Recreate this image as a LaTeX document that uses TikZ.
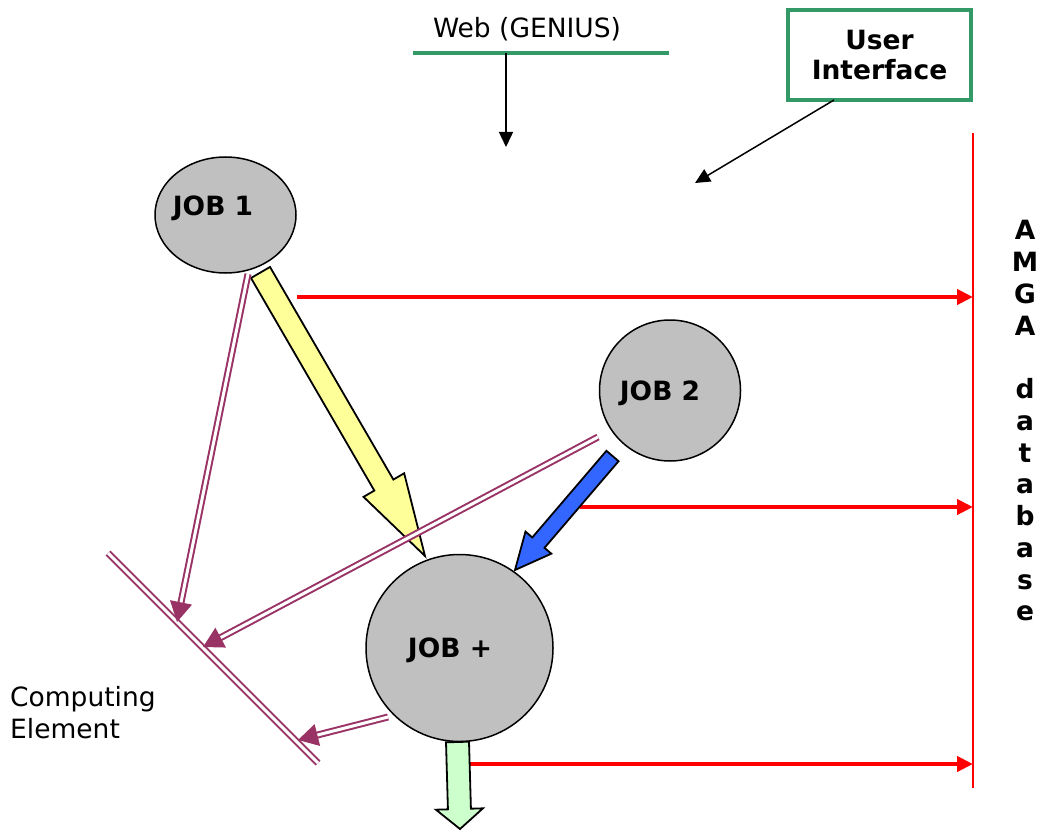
\documentclass[tikz,border=0pt]{standalone}
\usepackage{fontspec}
\setmainfont{DejaVu Sans}
\usetikzlibrary{arrows.meta,calc,shapes.geometric}

\definecolor{uigreen}{RGB}{51,153,102}
\definecolor{cepurple}{RGB}{153,51,102}
\definecolor{jobgray}{RGB}{192,192,192}
\definecolor{arrowyellow}{RGB}{255,255,153}
\definecolor{arrowblue}{RGB}{51,102,255}
\definecolor{arrowgreen}{RGB}{204,255,204}

% block arrow: from, to, shaft half width, head half width, head length, fill
\newcommand\blockarrow[6]{%
  \path ($(#2)!#5!(#1)$) coordinate (ba-h);
  \draw[blockedge, fill=#6]
    ($(#1)!#3!90:(#2)$) -- ($(ba-h)!#3!-90:(#1)$) -- ($(ba-h)!#4!-90:(#1)$) -- (#2)
    -- ($(ba-h)!#4!90:(#1)$) -- ($(ba-h)!#3!90:(#1)$) -- ($(#1)!#3!-90:(#2)$) -- cycle;}

\begin{document}
\begin{tikzpicture}[x=1pt,y=-1pt,
  job/.style={circle, draw=black, line width=1.5pt, fill=jobgray, inner sep=0pt},
  lbl/.style={font=\fontsize{26.5}{32}\selectfont},
  blbl/.style={font=\fontsize{26.5}{30}\selectfont\bfseries},
  ptr/.style={draw=black, line width=1.5pt, -{Triangle[length=15pt,width=14pt]}},
  feed/.style={draw=red, line width=4pt, -{Triangle[length=16pt,width=15pt]}},
  dbl/.style={draw=cepurple, double=white, double distance=3pt, line width=2pt},
  dblarrow/.style={dbl, -{Triangle[length=20pt,width=22pt]}},
  blockedge/.style={draw=black, line width=1.8pt, line join=miter}]
\useasboundingbox (0,0) rectangle (1040,829);

% web portal
\coordinate (webL) at (413,53);
\coordinate (webR) at (669,53);
\draw[uigreen, line width=4pt] (webL) -- (webR);
\node[lbl] (web) at (527,29) {Web (GENIUS)};
\coordinate (webin) at (506,53);
\coordinate (webout) at (506,147);
\draw[ptr] (webin) -- (webout);

% user interface
\node[draw=uigreen, line width=4pt, minimum width=183pt, minimum height=90pt,
      blbl, align=center] (ui) at (879.5,55) {User\\Interface};
\coordinate (uiout) at (834,100);
\coordinate (uiin) at (695,183);
\draw[ptr] (uiout) -- (uiin);

% AMGA database
\coordinate (dbT) at (973,133);
\coordinate (dbB) at (973,788);
\draw[red, line width=1.5pt] (dbT) -- (dbB);
\node[font=\fontsize{26.5}{31.75}\selectfont\bfseries, align=center] (amga) at (1025,421)
  {A\\M\\G\\A\\\mbox{}\\d\\a\\t\\a\\b\\a\\s\\e};

% jobs
\node[job, ellipse, minimum width=141pt, minimum height=116pt] (j1) at (225.5,215) {};
\node[job, minimum size=141pt] (j2) at (670,390.5) {};
\node[job, minimum size=187pt] (jp) at (459.5,648) {};
\node[blbl] (j1t) at (213,208) {JOB 1};
\node[blbl] (j2t) at (660,393) {JOB 2};
\node[blbl] (jpt) at (450,650) {JOB +};

% metadata written to the database
\coordinate (r1a) at (297,297);
\coordinate (r1b) at (973,297);
\coordinate (r2a) at (580,507);
\coordinate (r2b) at (973,507);
\coordinate (r3a) at (470,764);
\coordinate (r3b) at (973,764);
\draw[feed] (r1a) -- (r1b);
\draw[feed] (r2a) -- (r2b);
\draw[feed] (r3a) -- (r3b);

% job flow
\coordinate (ya) at (260.5,272.5);
\coordinate (yb) at (425,556);
\blockarrow{ya}{yb}{11pt}{23.5pt}{82pt}{arrowyellow}
\coordinate (bla) at (612.5,456);
\coordinate (blb) at (515,570);
\blockarrow{bla}{blb}{8pt}{17pt}{36pt}{arrowblue}
\coordinate (ga) at (457.5,742);
\coordinate (gb) at (460,829);
\blockarrow{ga}{gb}{11.5pt}{23.5pt}{20pt}{arrowgreen}

% computing element
\coordinate (ceA) at (108,553);
\coordinate (ceB) at (318,763);
\draw[dbl] (ceA) -- (ceB);
\node[lbl, align=left, anchor=west, inner sep=0pt] (cet) at (10,713) {Computing\\Element};

\coordinate (d1a) at (248,274);
\coordinate (d1b) at (177,622);
\coordinate (d2a) at (598,437);
\coordinate (d2b) at (203,647);
\coordinate (d3a) at (388,717);
\coordinate (d3b) at (298,740);
\draw[dblarrow] (d1a) -- (d1b);
\draw[dblarrow] (d2a) -- (d2b);
\draw[dblarrow] (d3a) -- (d3b);
\end{tikzpicture}
\end{document}
